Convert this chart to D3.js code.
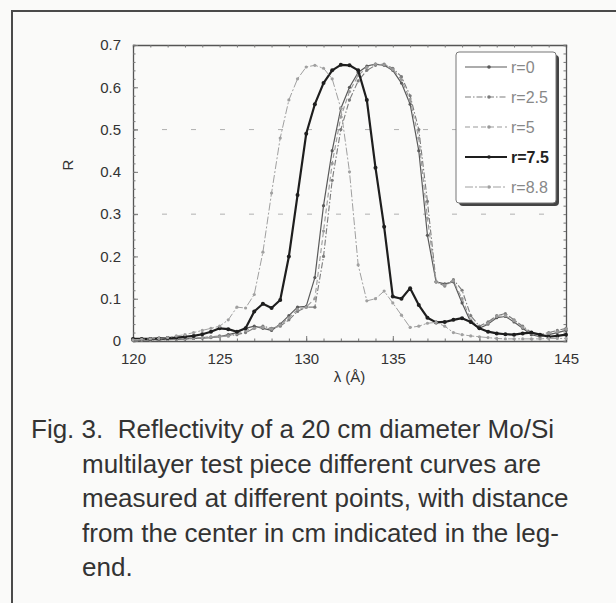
<!DOCTYPE html>
<html>
<head>
<meta charset="utf-8">
<script src="https://cdn.jsdelivr.net/npm/d3@7"></script>
<style>
  body { margin: 0; background: #fafaf9; }
  svg { display: block; font-family: Arial, "Liberation Sans", sans-serif; }
  .caption text { white-space: pre; }
</style>
</head>
<body>
<svg id="chart" width="616" height="603"></svg>
<script>
// wavelength grid (Å), shared by all curves
const lambda = d3.range(51).map(i => 120 + i * 0.5);

const r0 = [0.002, 0.002, 0.003, 0.003, 0.004, 0.004, 0.005, 0.006, 0.007, 0.008,
  0.01, 0.015, 0.02, 0.03, 0.035, 0.03, 0.025, 0.04, 0.06, 0.08,
  0.082, 0.15, 0.32, 0.45, 0.55, 0.6, 0.635, 0.65, 0.655, 0.652,
  0.64, 0.61, 0.56, 0.45, 0.25, 0.14, 0.135, 0.14, 0.09, 0.045,
  0.03, 0.04, 0.055, 0.058, 0.045, 0.03, 0.015, 0.01, 0.015, 0.02, 0.025];
const r25 = [0.002, 0.002, 0.002, 0.003, 0.003, 0.004, 0.005, 0.006, 0.008, 0.01,
  0.012, 0.012, 0.015, 0.02, 0.03, 0.035, 0.03, 0.035, 0.05, 0.07,
  0.08, 0.08, 0.2, 0.38, 0.5, 0.57, 0.615, 0.64, 0.652, 0.655,
  0.645, 0.625, 0.58, 0.5, 0.33, 0.14, 0.13, 0.145, 0.12, 0.06,
  0.035, 0.045, 0.06, 0.065, 0.05, 0.035, 0.02, 0.015, 0.02, 0.025, 0.03];
const r5 = [0.003, 0.003, 0.003, 0.004, 0.004, 0.005, 0.006, 0.007, 0.008, 0.009,
  0.01, 0.012, 0.018, 0.025, 0.03, 0.032, 0.028, 0.038, 0.055, 0.075,
  0.08, 0.1, 0.26, 0.42, 0.53, 0.59, 0.628, 0.647, 0.655, 0.653,
  0.642, 0.618, 0.57, 0.48, 0.29, 0.14, 0.132, 0.142, 0.1, 0.05,
  0.032, 0.042, 0.058, 0.06, 0.048, 0.032, 0.018, 0.012, 0.018, 0.022, 0.028];
const r75 = [0.005, 0.005, 0.005, 0.006, 0.007, 0.008, 0.01, 0.012, 0.016, 0.022,
  0.03, 0.028, 0.022, 0.03, 0.07, 0.088, 0.078, 0.097, 0.2, 0.345,
  0.49, 0.56, 0.61, 0.64, 0.653, 0.652, 0.64, 0.57, 0.41, 0.27,
  0.105, 0.1, 0.125, 0.085, 0.055, 0.044, 0.045, 0.05, 0.054, 0.045,
  0.03, 0.022, 0.018, 0.016, 0.015, 0.018, 0.02, 0.015, 0.01, 0.012, 0.015];
const r88 = [0.003, 0.004, 0.005, 0.006, 0.008, 0.012, 0.015, 0.02, 0.025, 0.03,
  0.035, 0.05, 0.08, 0.078, 0.11, 0.21, 0.35, 0.48, 0.57, 0.62,
  0.648, 0.652, 0.645, 0.62, 0.55, 0.4, 0.18, 0.095, 0.1, 0.118,
  0.09, 0.061, 0.032, 0.035, 0.042, 0.044, 0.035, 0.02, 0.015, 0.012,
  0.01, 0.008, 0.006, 0.005, 0.005, 0.005, 0.005, 0.005, 0.006, 0.006, 0.006];

const seriesNames = ["r=0", "r=2.5", "r=5", "r=7.5", "r=8.8"];
const seriesValues = [r0, r25, r5, r75, r88];

const xTicks = [120, 125, 130, 135, 140, 145];
const yTicks = [0, 0.1, 0.2, 0.3, 0.4, 0.5, 0.6, 0.7];
const yGrid = [0.3, 0.5];

const captionLines = [
  "Fig. 3.  Reflectivity of a 20 cm diameter Mo/Si",
  "multilayer test piece different curves are",
  "measured at different points, with distance",
  "from the center in cm indicated in the leg-",
  "end."
];

// line look per series
const styles = [
  {color: "#5a5a5a", width: 1.2, dash: null},
  {color: "#7c7c7c", width: 1.1, dash: "6,2,1.5,2"},
  {color: "#9a9a9a", width: 1.1, dash: "5,3"},
  {color: "#1e1e1e", width: 2.2, dash: null},
  {color: "#a0a0a0", width: 1, dash: "8,2,2,2"}
];

const svg = d3.select("#chart");
const plotLeft = 133, plotRight = 566, plotTop = 45, plotBottom = 341;

const x = d3.scaleLinear().domain([120, 145]).range([plotLeft, plotRight]);
const y = d3.scaleLinear().domain([0, 0.7]).range([plotBottom, plotTop]);

// page frame (only top and left edges show)
svg.append("path")
  .attr("d", "M12,603V11H616")
  .attr("fill", "none")
  .attr("stroke", "#4a4a4a")
  .attr("stroke-width", 2);

// faint dashed grid
svg.append("g").selectAll("line")
  .data(yGrid)
  .join("line")
  .attr("x1", plotLeft).attr("x2", plotRight)
  .attr("y1", d => y(d)).attr("y2", d => y(d))
  .attr("stroke", "#b0b0b0")
  .attr("stroke-width", 1)
  .attr("stroke-dasharray", "5,24");

// axes: ticks point inward
function styleAxis(g) {
  g.select(".domain").attr("stroke", "#555").attr("stroke-width", 1.3);
  g.selectAll(".tick line").attr("stroke", "#777");
  g.selectAll(".tick text").attr("fill", "#333").attr("font-size", 15);
}

const xMinor = d3.range(120, 146, 1);
const yMinor = d3.range(0, 0.701, 0.02);

svg.append("g").attr("transform", `translate(0,${plotBottom})`)
  .call(d3.axisBottom(x).tickValues(xMinor).tickSize(-2.5).tickFormat(""))
  .call(styleAxis);
svg.append("g").attr("transform", `translate(0,${plotBottom})`)
  .call(d3.axisBottom(x).tickValues(xTicks).tickSize(-5).tickPadding(12).tickFormat(d3.format("d")))
  .call(styleAxis)
  .call(g => g.select(".domain").remove());

svg.append("g").attr("transform", `translate(0,${plotTop})`)
  .call(d3.axisTop(x).tickValues(xMinor).tickSize(-2.5).tickFormat(""))
  .call(styleAxis);

svg.append("g").attr("transform", `translate(${plotLeft},0)`)
  .call(d3.axisLeft(y).tickValues(yMinor).tickSize(-2.5).tickFormat(""))
  .call(styleAxis);
svg.append("g").attr("transform", `translate(${plotLeft},0)`)
  .call(d3.axisLeft(y).tickValues(yTicks).tickSize(-5).tickPadding(12)
    .tickFormat(d => d === 0 ? "0" : d3.format(".1f")(d)))
  .call(styleAxis)
  .call(g => g.select(".domain").remove());

svg.append("g").attr("transform", `translate(${plotRight},0)`)
  .call(d3.axisRight(y).tickValues(yMinor).tickSize(-2.5).tickFormat(""))
  .call(styleAxis);

// axis titles
svg.append("text")
  .attr("x", (plotLeft + plotRight) / 2).attr("y", 382)
  .attr("text-anchor", "middle")
  .attr("font-size", 15).attr("fill", "#333")
  .text("λ (Å)");
svg.append("text")
  .attr("transform", "translate(73,165) rotate(-90)")
  .attr("text-anchor", "middle")
  .attr("font-size", 15).attr("fill", "#333")
  .text("R");

// curves
const line = d3.line()
  .x((d, i) => x(lambda[i]))
  .y(d => y(d));

const curves = svg.append("g");
seriesValues.forEach((vals, k) => {
  const st = styles[k];
  curves.append("path")
    .datum(vals)
    .attr("d", line)
    .attr("fill", "none")
    .attr("stroke", st.color)
    .attr("stroke-width", st.width)
    .attr("stroke-dasharray", st.dash)
    .attr("stroke-linejoin", "round");
  curves.append("g").selectAll("circle")
    .data(vals)
    .join("circle")
    .attr("cx", (d, i) => x(lambda[i]))
    .attr("cy", d => y(d))
    .attr("r", k === 3 ? 2 : 1.6)
    .attr("fill", st.color);
});

// legend
const lg = svg.append("g").attr("transform", "translate(456,52)");
lg.append("rect")
  .attr("x", 3).attr("y", 3).attr("width", 100).attr("height", 151)
  .attr("rx", 4)
  .attr("fill", "#444");
lg.append("rect")
  .attr("x", 0).attr("y", 0).attr("width", 100).attr("height", 151)
  .attr("rx", 3)
  .attr("fill", "#fff")
  .attr("stroke", "#777")
  .attr("stroke-width", 1);

const items = lg.selectAll("g.item")
  .data(seriesNames)
  .join("g")
  .attr("class", "item")
  .attr("transform", (d, i) => `translate(0,${15 + i * 30})`);
items.append("line")
  .attr("x1", 9).attr("x2", 51)
  .attr("stroke", (d, i) => styles[i].color)
  .attr("stroke-width", (d, i) => styles[i].width)
  .attr("stroke-dasharray", (d, i) => styles[i].dash);
items.append("circle")
  .attr("cx", 33).attr("r", 1.8)
  .attr("fill", (d, i) => styles[i].color);
items.append("text")
  .attr("x", 55).attr("y", 6)
  .attr("font-size", 16)
  .attr("font-weight", (d, i) => i === 3 ? "bold" : "normal")
  .attr("fill", (d, i) => i === 3 ? "#222" : "#888")
  .text(d => d);

// caption
svg.append("g").attr("class", "caption").selectAll("text")
  .data(captionLines)
  .join("text")
  .attr("x", (d, i) => i === 0 ? 31 : 82)
  .attr("y", (d, i) => 438 + i * 34.5)
  .attr("font-size", 26)
  .attr("fill", "#333")
  .text(d => d);
</script>
</body>
</html>
